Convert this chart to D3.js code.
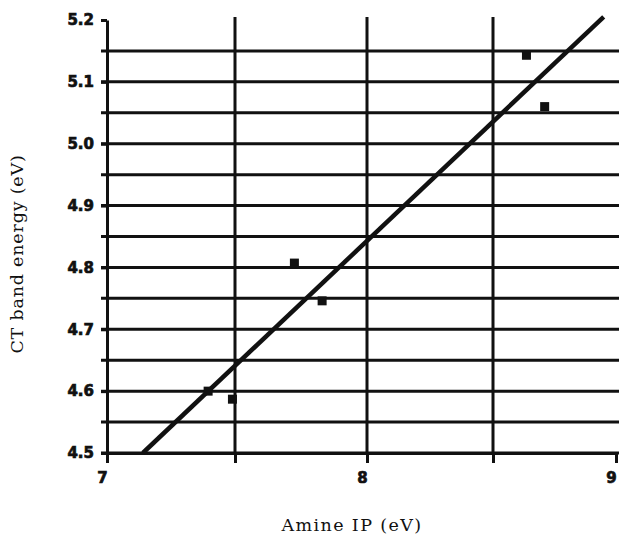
<!DOCTYPE html>
<html>
<head>
<meta charset="utf-8">
<script src="https://cdn.jsdelivr.net/npm/d3@7"></script>
<style>
  body { margin: 0; background: #fff; }
  svg { display: block; }
</style>
</head>
<body>
<script>
// amine ionization potential vs CT band energy
const ipValues = [7.395, 7.49, 7.725, 7.83, 8.636, 8.71]
const ctValues = [4.60, 4.587, 4.807, 4.746, 5.143, 5.06]

// least squares line, end points as drawn
const fitIP = [7.14, 8.95]
const fitCT = [4.50, 5.205]

const xTickValues = [7, 7.5, 8, 8.5, 9]
const xTickLabels = ["7", "", "8", "", "9"]
const xGridValues = [7.5, 8, 8.5]
const yTickValues = [4.5, 4.6, 4.7, 4.8, 4.9, 5.0, 5.1, 5.2]
const yGridValues = [4.5, 4.55, 4.6, 4.65, 4.7, 4.75, 4.8, 4.85, 4.9, 4.95, 5.0, 5.05, 5.1, 5.15]

const w = 619
const h = 535
const ink = "#111"

const svg = d3.select("body")
  .append("svg")
  .attr("width", w)
  .attr("height", h)

// the scanned axis is a little uneven, so the x scale is piecewise
const xScale = d3.scaleLinear()
  .domain([7, 7.5, 8, 8.5, 9])
  .range([107, 235, 367, 493, 616])
const yScale = d3.scaleLinear()
  .domain([4.5, 5.2])
  .range([453, 20])

// horizontal grid, every 0.05
svg.append("g")
  .selectAll("line")
  .data(yGridValues)
  .enter()
  .append("line")
  .attr("x1", xScale(7) - 6)
  .attr("x2", w + 2)
  .attr("y1", d => yScale(d))
  .attr("y2", d => yScale(d))
  .attr("stroke", ink)
  .attr("stroke-width", 3)

// vertical grid
svg.append("g")
  .selectAll("line")
  .data(xGridValues)
  .enter()
  .append("line")
  .attr("x1", d => xScale(d))
  .attr("x2", d => xScale(d))
  .attr("y1", yScale(5.2) - 3)
  .attr("y2", yScale(4.5))
  .attr("stroke", ink)
  .attr("stroke-width", 3)

const yAxis = d3.axisLeft(yScale)
  .tickValues(yTickValues)
  .tickSize(6)
  .tickSizeOuter(0)
  .tickPadding(7)
  .tickFormat(d3.format(".1f"))

const yAxisG = svg.append("g")
  .attr("transform", "translate(" + xScale(7) + ",0)")
  .call(yAxis)

const xAxis = d3.axisBottom(xScale)
  .tickValues(xTickValues)
  .tickSize(10)
  .tickSizeOuter(0)
  .tickPadding(9)
  .tickFormat((d, i) => xTickLabels[i])

const xAxisG = svg.append("g")
  .attr("transform", "translate(0," + yScale(4.5) + ")")
  .call(xAxis)

xAxisG.selectAll("text").attr("dx", -5)

for (const g of [yAxisG, xAxisG]) {
  g.select(".domain").attr("stroke", ink).attr("stroke-width", 3)
  g.selectAll(".tick line").attr("stroke", ink).attr("stroke-width", 3)
  g.selectAll("text")
    .attr("fill", ink)
    .attr("stroke", ink)
    .attr("stroke-width", 0.7)
    .style("font-family", "DejaVu Sans")
    .style("font-weight", "bold")
    .style("font-size", "15px")
}

// fitted line
const line = d3.line()
  .x(d => xScale(d[0]))
  .y(d => yScale(d[1]))

svg.append("path")
  .datum(d3.zip(fitIP, fitCT))
  .attr("d", line)
  .attr("fill", "none")
  .attr("stroke", ink)
  .attr("stroke-width", 4.5)

// data points
const size = 9
svg.append("g")
  .selectAll("rect")
  .data(d3.zip(ipValues, ctValues))
  .enter()
  .append("rect")
  .attr("x", d => xScale(d[0]) - size / 2)
  .attr("y", d => yScale(d[1]) - size / 2)
  .attr("width", size)
  .attr("height", size)
  .attr("fill", ink)

// axis titles
svg.append("text")
  .attr("x", 352)
  .attr("y", 531)
  .attr("text-anchor", "middle")
  .style("font-family", "DejaVu Serif")
  .style("font-size", "17.5px")
  .style("letter-spacing", "1.4px")
  .attr("fill", ink)
  .text("Amine IP (eV)")

svg.append("text")
  .attr("transform", "translate(23,254) rotate(-90)")
  .attr("text-anchor", "middle")
  .style("font-family", "DejaVu Serif")
  .style("font-size", "17.5px")
  .style("letter-spacing", "0.8px")
  .attr("fill", ink)
  .text("CT band energy (eV)")
</script>
</body>
</html>
